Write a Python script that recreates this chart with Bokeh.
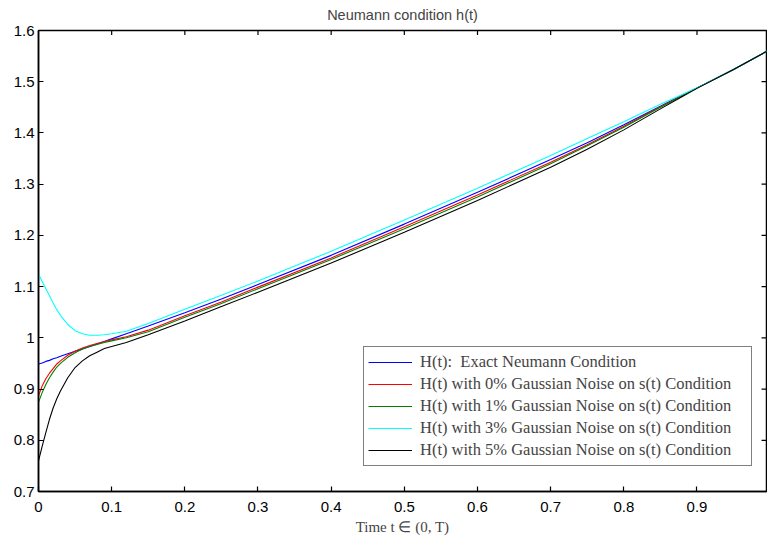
from bokeh.plotting import figure
from bokeh.models import Range1d, Legend, LegendItem, FixedTicker
from bokeh.embed import file_html
from bokeh.resources import INLINE

t = [0, 0.005, 0.01, 0.015, 0.02, 0.025, 0.03, 0.04, 0.05, 0.06, 0.07, 0.08, 0.09, 0.1,
     0.12, 0.15, 0.2, 0.25, 0.3, 0.4, 0.5, 0.6, 0.7, 0.75, 0.8, 0.85, 0.88, 0.9, 0.95, 0.996]

h_exact = [0.949, 0.951, 0.954, 0.956, 0.959, 0.961, 0.964, 0.969, 0.974, 0.978, 0.983, 0.988, 0.993, 0.998,
           1.008, 1.023, 1.049, 1.076, 1.104, 1.161, 1.222, 1.284, 1.348, 1.381, 1.416, 1.452, 1.474, 1.488, 1.524, 1.560]
h_noise0 = [0.887, 0.906, 0.920, 0.931, 0.940, 0.949, 0.955, 0.966, 0.974, 0.980, 0.985, 0.989, 0.993, 0.996,
            1.002, 1.015, 1.043, 1.070, 1.099, 1.156, 1.217, 1.279, 1.343, 1.377, 1.413, 1.451, 1.473, 1.488, 1.524, 1.560]
h_noise1 = [0.874, 0.893, 0.909, 0.922, 0.933, 0.943, 0.950, 0.962, 0.971, 0.978, 0.983, 0.987, 0.991, 0.994,
            1.000, 1.012, 1.040, 1.067, 1.096, 1.153, 1.213, 1.275, 1.340, 1.375, 1.411, 1.450, 1.472, 1.488, 1.524, 1.560]
h_noise3 = [1.124, 1.110, 1.096, 1.082, 1.068, 1.055, 1.044, 1.026, 1.014, 1.008, 1.005, 1.005, 1.006, 1.008,
            1.013, 1.028, 1.056, 1.083, 1.111, 1.169, 1.230, 1.292, 1.356, 1.389, 1.422, 1.456, 1.475, 1.488, 1.524, 1.560]
h_noise5 = [0.760, 0.788, 0.815, 0.841, 0.863, 0.881, 0.896, 0.922, 0.942, 0.955, 0.965, 0.972, 0.979, 0.983,
            0.991, 1.006, 1.033, 1.061, 1.089, 1.146, 1.206, 1.268, 1.333, 1.368, 1.406, 1.447, 1.471, 1.487, 1.524, 1.560]

labels = [
    "H(t):  Exact Neumann Condition",
    "H(t) with 0% Gaussian Noise on s(t) Condition",
    "H(t) with 1% Gaussian Noise on s(t) Condition",
    "H(t) with 3% Gaussian Noise on s(t) Condition",
    "H(t) with 5% Gaussian Noise on s(t) Condition",
]
colors = ["#0000ff", "#ff0000", "#008000", "#00ffff", "#000000"]
series = [h_exact, h_noise0, h_noise1, h_noise3, h_noise5]

x_ticks = [0, 0.1, 0.2, 0.3, 0.4, 0.5, 0.6, 0.7, 0.8, 0.9]
y_ticks = [0.7, 0.8, 0.9, 1.0, 1.1, 1.2, 1.3, 1.4, 1.5, 1.6]
x_min, x_max = 0, 0.995
y_min, y_max = 0.7, 1.6

p = figure(width=767, height=540, output_backend="svg", toolbar_location=None,
           x_range=Range1d(x_min, x_max), y_range=Range1d(y_min, y_max),
           min_border_left=38, min_border_right=1, min_border_top=30, min_border_bottom=49)

p.title.text = "Neumann condition h(t)"
p.title.align = "center"
p.title.vertical_align = "top"
p.title.text_font = "Liberation Sans"
p.title.text_font_size = "14.5px"
p.title.text_font_style = "normal"
p.title.standoff = 12
p.title.offset = 0

p.grid.visible = False
p.background_fill_color = "white"
p.border_fill_color = "white"
p.outline_line_color = "black"
p.outline_line_width = 1.5

p.xaxis.ticker = FixedTicker(ticks=x_ticks)
p.yaxis.ticker = FixedTicker(ticks=y_ticks)
p.xaxis.major_label_overrides = {0: "0"}
p.yaxis.major_label_overrides = {1.0: "1"}
for ax in (p.xaxis[0], p.yaxis[0]):
    ax.major_tick_in = 5
    ax.major_tick_out = 0
    ax.major_tick_line_width = 1.2
    ax.minor_tick_in = 0
    ax.minor_tick_out = 0
    ax.axis_line_width = 1.5
    ax.major_label_text_font = "Liberation Sans"
    ax.major_label_text_font_size = "15px"
    ax.major_label_text_color = "black"
p.xaxis.major_label_standoff = 10
p.yaxis.major_label_standoff = 4
p.xaxis.axis_label = "Time t \u2208 (0, T)"
p.xaxis.axis_label_text_font = "Liberation Serif"
p.xaxis.axis_label_text_font_style = "normal"
p.xaxis.axis_label_text_font_size = "15px"
p.xaxis.axis_label_standoff = 4

items = []
for lab, col, ys in zip(labels, colors, series):
    r = p.line(t, ys, line_color=col, line_width=1.1)
    items.append(LegendItem(label=lab, renderers=[r]))

# inward tick marks on the top and right edges of the box
p.segment(x0=x_ticks[1:], y0=[y_max] * (len(x_ticks) - 1),
          x1=x_ticks[1:], y1=[y_max - 0.009] * (len(x_ticks) - 1),
          line_color="black", line_width=1.2)
p.segment(x0=[x_max] * (len(y_ticks) - 2), y0=y_ticks[1:-1],
          x1=[x_max - 0.0068] * (len(y_ticks) - 2), y1=y_ticks[1:-1],
          line_color="black", line_width=1.2)

legend = Legend(items=items, location=(325, 25))
legend.label_text_font = "Liberation Serif"
legend.label_text_font_size = "16.5px"
legend.glyph_width = 44
legend.glyph_height = 22
legend.label_height = 22
legend.label_width = 327
legend.label_standoff = 8
legend.spacing = 0
legend.padding = 4
legend.margin = 0
legend.border_line_color = "black"
legend.border_line_width = 1.2
legend.background_fill_alpha = 1.0
p.add_layout(legend, "center")

open("out.html", "w").write(file_html(p, INLINE))
